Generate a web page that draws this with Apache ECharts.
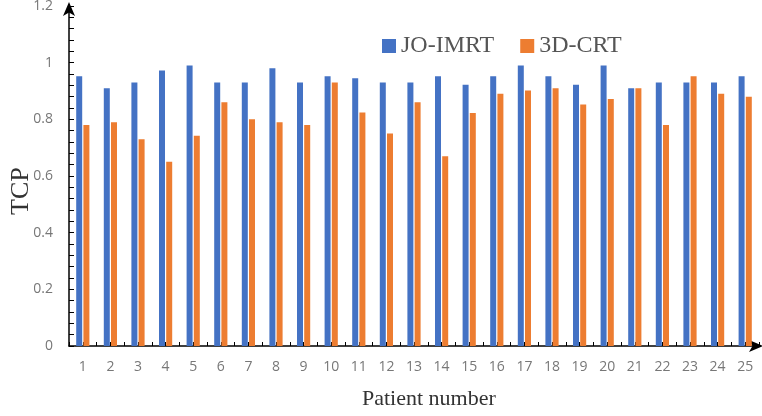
<!DOCTYPE html>
<html><head><meta charset="utf-8">
<script src="https://cdn.jsdelivr.net/npm/echarts@6/dist/echarts.min.js"></script>
<style>html,body{margin:0;padding:0;background:#fff}#c{width:762px;height:416px}</style>
</head><body><div id="c"></div>
<script>
var categories = ['1','2','3','4','5','6','7','8','9','10','11','12','13','14','15','16','17','18','19','20','21','22','23','24','25'];
var joImrt = [0.952,0.91,0.93,0.972,0.99,0.93,0.93,0.98,0.93,0.952,0.945,0.93,0.93,0.952,0.922,0.952,0.99,0.952,0.922,0.99,0.91,0.93,0.93,0.93,0.952];
var crt3d = [0.78,0.79,0.73,0.65,0.742,0.86,0.80,0.79,0.78,0.93,0.824,0.75,0.86,0.67,0.822,0.89,0.902,0.91,0.852,0.872,0.91,0.78,0.952,0.89,0.88];

var chart = echarts.init(document.getElementById('c'));
chart.setOption({
  animation: false,
  legend: {
    top: 29, left: 377,
    itemWidth: 14, itemHeight: 14, itemGap: 26,
    icon: 'rect',
    textStyle: {fontFamily: 'Liberation Serif', fontSize: 24, color: '#555'},
    data: ['JO-IMRT','3D-CRT']
  },
  grid: {left: 69, right: 3, top: 6, bottom: 70, outerBoundsMode: 'none', containLabel: false},
  graphic: [
    {type: 'text', left: 362, top: 388, style: {text: 'Patient number', font: '22px "Liberation Serif"', fill: '#333'}},
    {type: 'text', x: 8, y: 215, rotation: Math.PI / 2, originX: 0, originY: 0,
     style: {text: 'TCP', font: '26px "Liberation Serif"', fill: '#333', align: 'left', verticalAlign: 'top'}}
  ],
  xAxis: [{
    type: 'category', data: categories,
    axisLine: {lineStyle: {color: '#000', width: 1.5}, symbol: ['none','arrow'], symbolSize: [9,14], symbolOffset: [0,4]},
    axisTick: {show: true, inside: true, length: 4, lineStyle: {color: '#000'}},
    axisLabel: {color: '#777', fontSize: 14, fontFamily: 'Open Sans', margin: 14}
  }, {
    type: 'category', data: categories, position: 'bottom',
    axisLine: {show: false},
    axisTick: {show: true, inside: true, length: 4, alignWithLabel: true, lineStyle: {color: '#000'}},
    axisLabel: {show: false}
  }],
  yAxis: {
    type: 'value', min: 0, max: 1.2, interval: 0.2,
    axisLine: {show: true, lineStyle: {color: '#000', width: 1.5}, symbol: ['none','arrow'], symbolSize: [9,14], symbolOffset: [0,4]},
    axisTick: {show: true, inside: true, length: 5, lineStyle: {color: '#000'}},
    minorTick: {show: true, splitNumber: 5, length: 5, lineStyle: {color: '#000'}},
    splitLine: {show: false},
    axisLabel: {color: '#777', fontSize: 14, fontFamily: 'Open Sans', margin: 16}
  },
  series: [
    {name: 'JO-IMRT', type: 'bar', data: joImrt, barWidth: 6, barGap: '20%', itemStyle: {color: '#4472C4'}},
    {name: '3D-CRT', type: 'bar', data: crt3d, barWidth: 6, barGap: '20%', itemStyle: {color: '#ED7D31'}}
  ]
});
</script></body></html>
